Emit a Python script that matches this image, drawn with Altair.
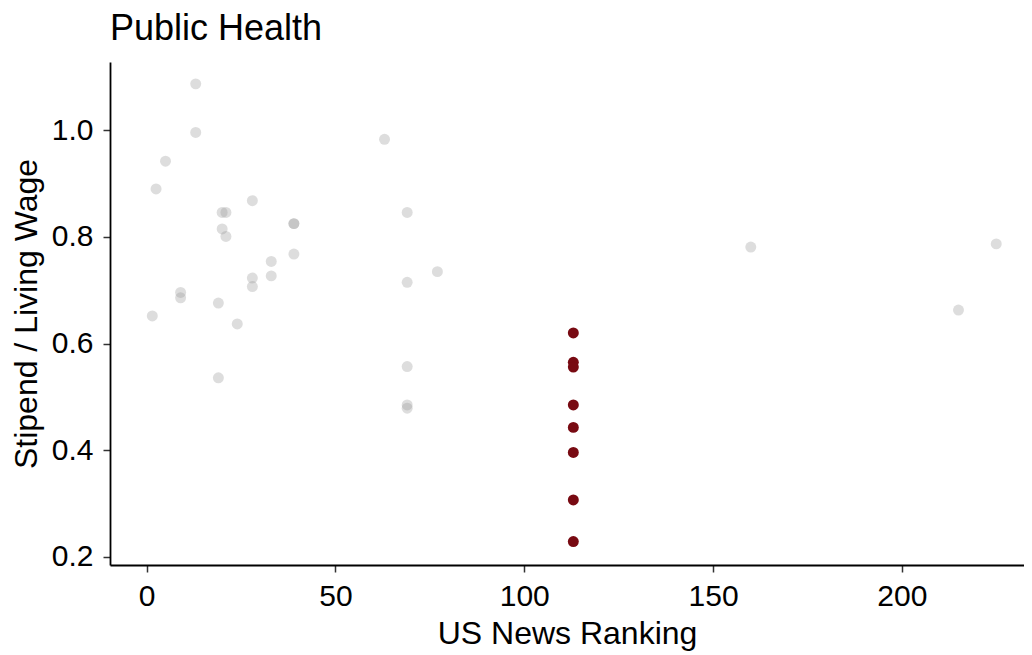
import altair as alt
import pandas as pd

# Other programs (grey)
other_rank = [13, 13, 5, 2.5, 63, 28, 20, 21, 69, 39, 39, 20, 21, 39, 33, 33, 77, 28, 28, 69,
              9, 9, 19, 1.5, 24, 19, 69, 69, 69, 160, 215, 225]
other_ratio = [1.087, 0.996, 0.942, 0.890, 0.983, 0.868, 0.846, 0.846, 0.846, 0.825, 0.825,
               0.815, 0.801, 0.768, 0.754, 0.727, 0.735, 0.723, 0.707, 0.715, 0.696, 0.686,
               0.676, 0.652, 0.637, 0.536, 0.557, 0.485, 0.479, 0.781, 0.663, 0.787]

# Highlighted program (dark red)
hl_rank = [113, 113, 113, 113, 113, 113, 113, 113]
hl_ratio = [0.620, 0.565, 0.556, 0.485, 0.443, 0.396, 0.307, 0.229]

x_ticks = [0, 50, 100, 150, 200]
y_ticks = [0.2, 0.4, 0.6, 0.8, 1.0]

df_other = pd.DataFrame({"rank": other_rank, "ratio": other_ratio})
df_hl = pd.DataFrame({"rank": hl_rank, "ratio": hl_ratio})

FONT = "Liberation Sans"

x_enc = alt.X("rank:Q", title="US News Ranking",
              scale=alt.Scale(domain=[-9.7, 232.35], nice=False, zero=False),
              axis=alt.Axis(values=x_ticks, format="d", labelPadding=9, titlePadding=7))
y_enc = alt.Y("ratio:Q", title="Stipend / Living Wage",
              scale=alt.Scale(domain=[0.185, 1.128], nice=False, zero=False),
              axis=alt.Axis(values=y_ticks, format=".1f", labelPadding=10, titlePadding=8))

grey = alt.Chart(df_other).mark_circle(size=120, color="#969696", opacity=0.32, clip=True).encode(
    x=x_enc, y=y_enc)
red = alt.Chart(df_hl).mark_circle(size=120, color="#780A12", opacity=1, clip=True).encode(
    x=x_enc, y=y_enc)

chart = alt.layer(grey, red).properties(
    width=914, height=503,
    padding={"left": 102, "top": 54, "right": 0, "bottom": 92},
    autosize=alt.AutoSizeParams(type="none"),
    title=alt.TitleParams("Public Health", anchor="start", font=FONT, fontSize=36,
                          fontWeight="normal", color="black", offset=14, frame="group"),
).configure_view(stroke=None).configure_axis(
    grid=False,
    domainColor="black", domainWidth=1.8,
    tickColor="#333333", tickWidth=1.5, tickSize=7,
    labelFont=FONT, labelFontSize=30, labelColor="black",
    titleFont=FONT, titleFontSize=32, titleFontWeight="normal", titleColor="black",
)

chart.save("out.html", embed_options={"renderer": "svg", "actions": False})
